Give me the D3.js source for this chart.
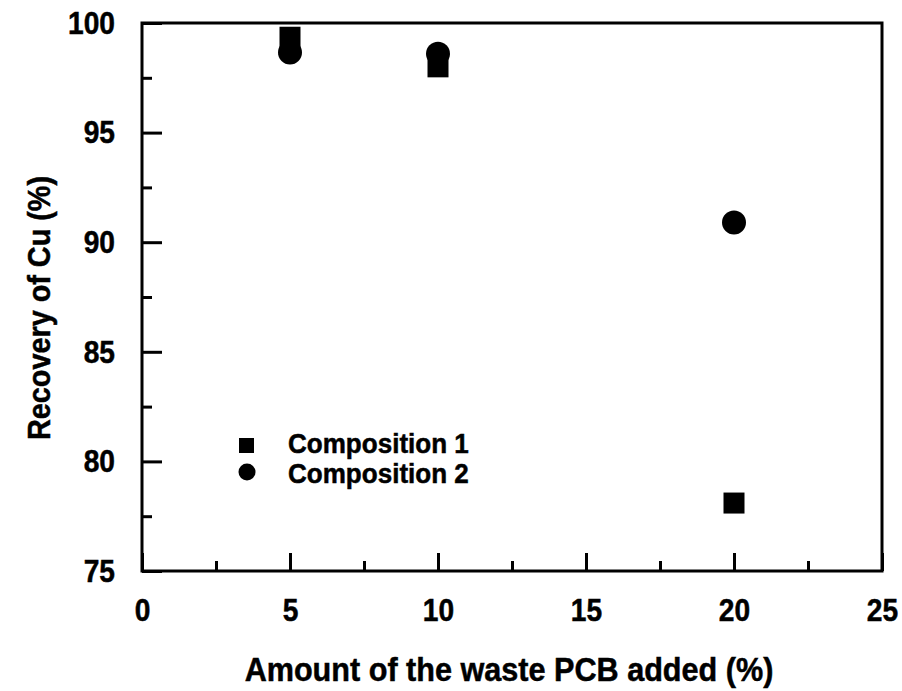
<!DOCTYPE html>
<html>
<head>
<meta charset="utf-8">
<script src="https://cdn.jsdelivr.net/npm/d3@7"></script>
<style>
  body { margin: 0; background: #fff; }
  text { font-family: "Liberation Sans", Arial, sans-serif; font-weight: bold; fill: #000; stroke: #000; stroke-width: 0.5px; }
</style>
</head>
<body>
<div id="chart"></div>
<script>
// data
const wasteAdded = [5, 10, 20];
const composition1 = [99.35, 98.0, 78.1];
const composition2 = [98.65, 98.6, 90.9];
const seriesNames = ['Composition 1', 'Composition 2'];
const xTicks = [0, 5, 10, 15, 20, 25];
const yTicks = [75, 80, 85, 90, 95, 100];

const W = 902, H = 691;
const margin = { top: 23, right: 20, bottom: 120, left: 142 };

const svg = d3.select('#chart')
  .append('svg')
  .attr('width', W)
  .attr('height', H);

const x = d3.scaleLinear().domain([0, 25]).range([margin.left, W - margin.right]);
const y = d3.scaleLinear().domain([75, 100]).range([H - margin.bottom, margin.top]);

// squeeze text a bit horizontally, the original font is a narrow one
function condense(sel, k) {
  sel.each(function () {
    const len = this.getComputedTextLength();
    d3.select(this).attr('textLength', len * k).attr('lengthAdjust', 'spacingAndGlyphs');
  });
}

// frame
svg.append('rect')
  .attr('x', x(0)).attr('y', y(100))
  .attr('width', x(25) - x(0)).attr('height', y(75) - y(100))
  .attr('fill', 'none').attr('stroke', '#000').attr('stroke-width', 3);

// x axis, ticks pointing inward
const xAxis = svg.append('g')
  .attr('transform', `translate(0,${y(75)})`)
  .call(d3.axisBottom(x).tickValues(xTicks).tickSize(-18).tickPadding(27));
svg.append('g')
  .attr('transform', `translate(0,${y(75)})`)
  .call(d3.axisBottom(x).tickValues(d3.range(2.5, 25, 5)).tickSize(-10).tickFormat(''));

// y axis
const yAxis = svg.append('g')
  .attr('transform', `translate(${x(0)},0)`)
  .call(d3.axisLeft(y).tickValues(yTicks).tickSize(-20).tickPadding(27));
svg.append('g')
  .attr('transform', `translate(${x(0)},0)`)
  .call(d3.axisLeft(y).tickValues(d3.range(77.5, 100, 5)).tickSize(-10).tickFormat(''));

svg.selectAll('.domain').remove();
svg.selectAll('.tick line').attr('stroke', '#000').attr('stroke-width', 3);
xAxis.selectAll('text').style('font-size', '32px').attr('fill', '#000').call(condense, 0.88);
yAxis.selectAll('text').style('font-size', '32px').attr('fill', '#000').call(condense, 0.88);

// axis titles
svg.append('text')
  .attr('x', 509).attr('y', 681)
  .attr('text-anchor', 'middle')
  .style('font-size', '34px')
  .text('Amount of the waste PCB added (%)')
  .call(condense, 0.9);

svg.append('text')
  .attr('transform', 'translate(50,308) rotate(-90)')
  .attr('text-anchor', 'middle')
  .style('font-size', '32px')
  .text('Recovery of Cu (%)')
  .call(condense, 0.9);

// points
const pts1 = wasteAdded.map((d, i) => ({ x: d, y: composition1[i] }));
const pts2 = wasteAdded.map((d, i) => ({ x: d, y: composition2[i] }));
const sq = 21;

svg.append('g').selectAll('rect')
  .data(pts1).enter().append('rect')
  .attr('x', d => x(d.x) - sq / 2)
  .attr('y', d => y(d.y) - sq / 2)
  .attr('width', sq).attr('height', sq)
  .attr('fill', '#000');

svg.append('g').selectAll('circle')
  .data(pts2).enter().append('circle')
  .attr('cx', d => x(d.x))
  .attr('cy', d => y(d.y))
  .attr('r', 12)
  .attr('fill', '#000');

// legend
const legend = svg.append('g');
legend.append('rect')
  .attr('x', 239).attr('y', 438).attr('width', 15).attr('height', 15).attr('fill', '#000');
legend.append('circle')
  .attr('cx', 247).attr('cy', 472).attr('r', 8.5).attr('fill', '#000');
legend.selectAll('text')
  .data(seriesNames).enter().append('text')
  .attr('x', 288)
  .attr('y', (d, i) => 453 + i * 30)
  .style('font-size', '28px')
  .text(d => d)
  .call(condense, 0.93);
</script>
</body>
</html>
